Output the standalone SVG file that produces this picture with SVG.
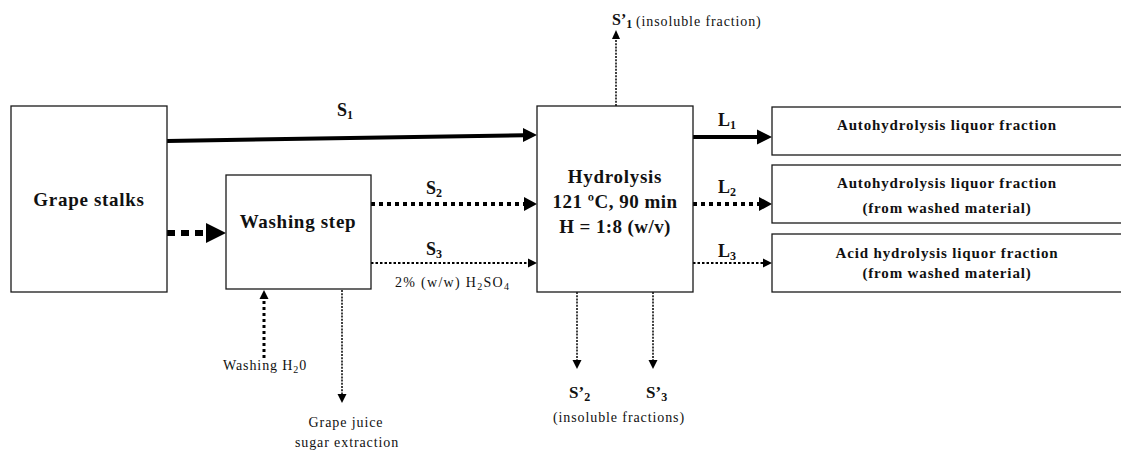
<svg xmlns="http://www.w3.org/2000/svg" width="1121" height="459" viewBox="0 0 1121 459">
<style>
text{font-family:"Liberation Serif","Times New Roman","DejaVu Serif",serif}
.box{fill:#fff;stroke:#1a1a1a;stroke-width:1.3}
.big{font-weight:bold;font-size:19px;letter-spacing:0.7px;fill:#111;text-anchor:middle}
.out{font-weight:bold;font-size:15px;letter-spacing:0.85px;fill:#111;text-anchor:middle}
.lab{font-weight:bold;font-size:18px;fill:#111}
.sm{font-size:14px;letter-spacing:0.9px;fill:#111}
.sub{font-size:12px}
.solid{stroke:#000;stroke-width:4;fill:none}
.dash6{stroke:#000;stroke-width:6;stroke-dasharray:8 6;fill:none}
.dot4{stroke:#000;stroke-width:4;stroke-dasharray:4 4;fill:none}
.dot2{stroke:#000;stroke-width:2.2;stroke-dasharray:2.5 2;fill:none}
.dot3{stroke:#000;stroke-width:3;stroke-dasharray:3 3;fill:none}
.dot1{stroke:#000;stroke-width:1.5;stroke-dasharray:2 1.2;fill:none}
.head{fill:#000}
</style>
<g id="connectors">
  <path class="solid" d="M167,141 L524,135.2"/>
  <polygon class="head" points="537,135 523,128 523,142"/>
  <path class="dash6" d="M167,233 L206,233"/>
  <polygon class="head" points="226,233 206,223 206,243"/>
  <path class="dot4" d="M371,204 L525,204"/>
  <polygon class="head" points="537,204 524,197 524,211"/>
  <path class="dot2" d="M371,263 L528,263"/>
  <polygon class="head" points="537,263 528,258.5 528,267.5"/>
  <path class="solid" d="M693,137 L758,137"/>
  <polygon class="head" points="772,137 757,129.5 757,144.5"/>
  <path class="dot4" d="M693,204 L760,204"/>
  <polygon class="head" points="772,204 759,197 759,211"/>
  <path class="dot2" d="M693,263 L763,263"/>
  <polygon class="head" points="772,263 763,258.5 763,267.5"/>
  <path class="dot3" d="M264,358 L264,297"/>
  <polygon class="head" points="264,290 259.5,299 268.5,299"/>
  <path class="dot1" d="M342,290 L342,394"/>
  <polygon class="head" points="342,403 337.5,394 346.5,394"/>
  <path class="dot1" d="M616,106 L616,38"/>
  <polygon class="head" points="616,30 612,39 620,39"/>
  <path class="dot1" d="M577,292 L577,360"/>
  <polygon class="head" points="577,369 572.5,360 581.5,360"/>
  <path class="dot1" d="M653,292 L653,360"/>
  <polygon class="head" points="653,369 648.5,360 657.5,360"/>
</g>
<g id="grape-stalks">
  <rect class="box" x="11" y="106" width="156" height="186"/>
  <text class="big" x="89" y="206">Grape stalks</text>
</g>
<g id="washing-step">
  <rect class="box" x="226" y="175" width="145" height="114"/>
  <text class="big" x="298" y="228">Washing step</text>
</g>
<g id="hydrolysis">
  <rect class="box" x="537" y="106" width="156" height="186"/>
  <text class="big" x="615" y="183">Hydrolysis</text>
  <text class="big" x="615" y="208" style="letter-spacing:0.5px">121 ºC, 90 min</text>
  <text class="big" x="615" y="233" style="letter-spacing:0.4px">H = 1:8 (w/v)</text>
</g>
<g id="out-l1">
  <rect class="box" x="772" y="107" width="360" height="48"/>
  <text class="out" x="947" y="130">Autohydrolysis liquor fraction</text>
</g>
<g id="out-l2">
  <rect class="box" x="772" y="165" width="360" height="58"/>
  <text class="out" x="947" y="188">Autohydrolysis liquor fraction</text>
  <text class="out" x="947" y="213">(from washed material)</text>
</g>
<g id="out-l3">
  <rect class="box" x="772" y="234" width="360" height="58"/>
  <text class="out" x="947" y="258">Acid hydrolysis liquor fraction</text>
  <text class="out" x="947" y="278">(from washed material)</text>
</g>
<g id="labels">
  <text class="lab" x="337" y="116">S<tspan class="sub" dy="3">1</tspan></text>
  <text class="lab" x="426" y="194">S<tspan class="sub" dy="3">2</tspan></text>
  <text class="lab" x="426" y="255">S<tspan class="sub" dy="3">3</tspan></text>
  <text class="lab" x="718" y="126">L<tspan class="sub" dy="3">1</tspan></text>
  <text class="lab" x="718" y="193">L<tspan class="sub" dy="3">2</tspan></text>
  <text class="lab" x="718" y="257">L<tspan class="sub" dy="3">3</tspan></text>
  <text class="sm" x="395" y="287" style="letter-spacing:1.3px">2% (w/w) H<tspan class="sub" dy="3" style="font-size:10px">2</tspan><tspan dy="-3">SO</tspan><tspan style="font-size:10px" dy="3">4</tspan></text>
  <text class="lab" x="612" y="25" style="font-size:16px">S’<tspan class="sub" dy="3">1</tspan></text>
  <text class="sm" x="636" y="26">(insoluble fraction)</text>
  <text class="lab" x="569" y="398" style="font-size:17px">S’<tspan class="sub" dy="3">2</tspan></text>
  <text class="lab" x="646" y="398" style="font-size:17px">S’<tspan class="sub" dy="3">3</tspan></text>
  <text class="sm" x="619" y="422" text-anchor="middle">(insoluble fractions)</text>
  <text class="sm" x="223" y="370">Washing H<tspan style="font-size:10px" dy="3">2</tspan><tspan dy="-3">0</tspan></text>
  <text class="sm" x="346" y="427" text-anchor="middle">Grape juice</text>
  <text class="sm" x="347" y="447" text-anchor="middle">sugar extraction</text>
</g>
</svg>
